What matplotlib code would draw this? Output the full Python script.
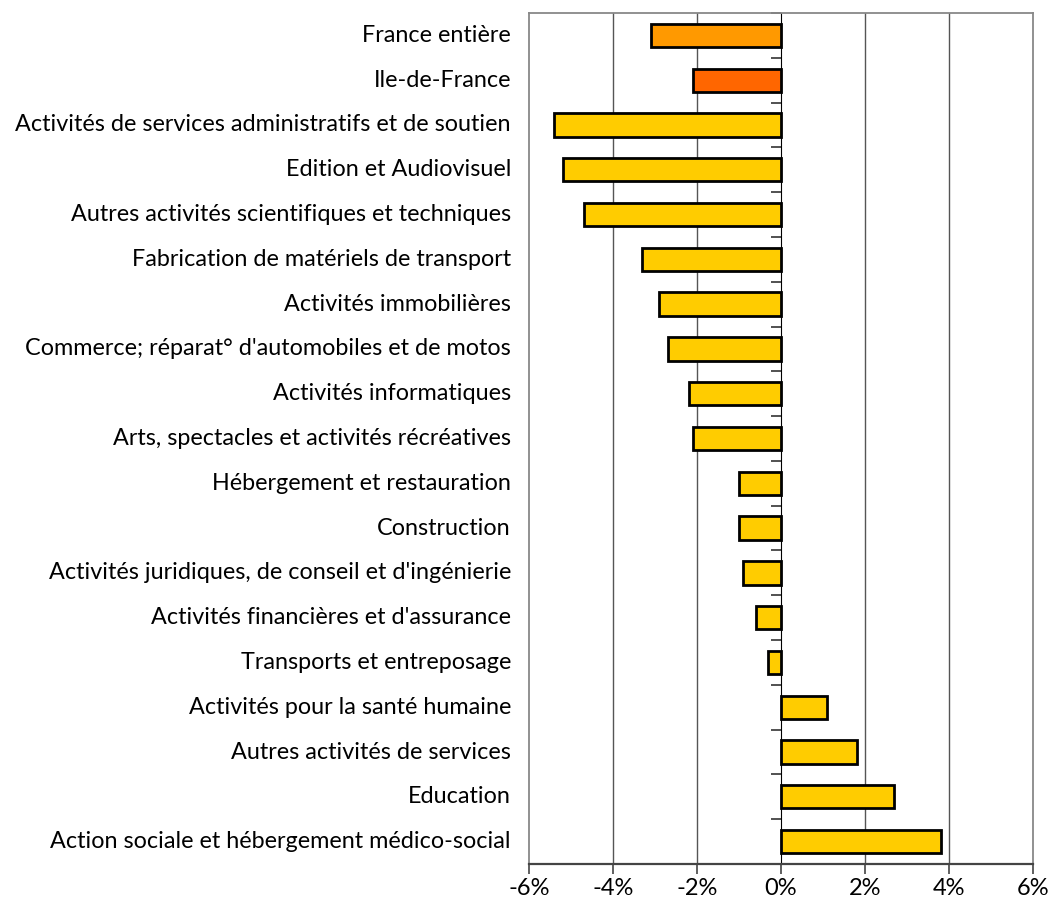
import matplotlib
matplotlib.use("Agg")
import matplotlib.pyplot as plt
import numpy as np
from matplotlib.ticker import FuncFormatter

categories = [
    "France entière",
    "Ile-de-France",
    "Activités de services administratifs et de soutien",
    "Edition et Audiovisuel",
    "Autres activités scientifiques et techniques",
    "Fabrication de matériels de transport",
    "Activités immobilières",
    "Commerce; réparat° d'automobiles et de motos",
    "Activités informatiques",
    "Arts, spectacles et activités récréatives",
    "Hébergement et restauration",
    "Construction",
    "Activités juridiques, de conseil et d'ingénierie",
    "Activités financières et d'assurance",
    "Transports et entreposage",
    "Activités pour la santé humaine",
    "Autres activités de services",
    "Education",
    "Action sociale et hébergement médico-social",
]
values = [-3.1, -2.1, -5.4, -5.2, -4.7, -3.3, -2.9, -2.7, -2.2, -2.1,
          -1.0, -1.0, -0.9, -0.6, -0.3, 1.1, 1.8, 2.7, 3.8]
colors = ["#FF9900", "#FF6600"] + ["#FFCC00"] * 17
xticks = [-6, -4, -2, 0, 2, 4, 6]

plt.rcParams['font.family'] = ['Lato', 'DejaVu Sans']

fig = plt.figure(figsize=(10.5, 9.19), dpi=100)
ax = fig.add_axes([529/1050, 1 - 864/919, (1033-529)/1050, (864-13)/919])

y = np.arange(len(categories))
ax.barh(y, values, height=0.52, color=colors, edgecolor="black", linewidth=2.0, zorder=3)
ax.set_xlim(-6, 6)
ax.set_ylim(len(categories) - 0.5, -0.5)

ax.set_yticks(y)
ax.set_yticklabels(categories, fontsize=16.8, va='center')
ax.tick_params(axis='y', length=0, pad=13)
for lbl in ax.get_yticklabels():
    lbl.set_y(lbl.get_position()[1])

ax.set_xticks(xticks)
ax.xaxis.set_major_formatter(FuncFormatter(lambda v, p: f"{int(v)}%"))
ax.tick_params(axis='x', direction='out', length=7, width=1.2, color='#444444',
               labelsize=17, pad=3)

for v in [-4, -2, 2, 4]:
    ax.axvline(v, color='#555555', linewidth=1, zorder=1)

for s in ['left', 'top', 'right']:
    ax.spines[s].set_color('#888888')
    ax.spines[s].set_linewidth(1.3)
ax.spines['bottom'].set_color('#444444')
ax.spines['bottom'].set_linewidth(1.6)

sec = ax.secondary_yaxis(0.5)
sec.set_yticks(np.arange(len(categories) + 1) - 0.5)
sec.yaxis.set_major_formatter(FuncFormatter(lambda v, p: ""))
sec.tick_params(axis='y', direction='in', length=7, width=1.2, color='#333333')
sec.spines['left'].set_color('#555555')
sec.spines['left'].set_linewidth(1.2)

fig.savefig("out.png", dpi=100)
